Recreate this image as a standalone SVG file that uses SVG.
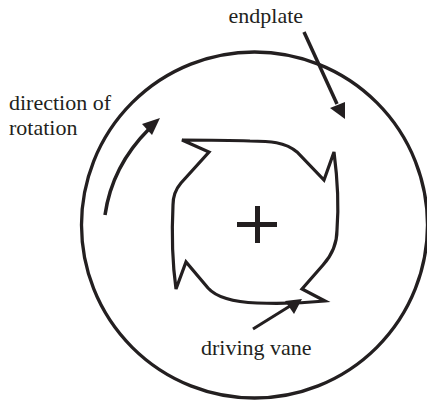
<svg xmlns="http://www.w3.org/2000/svg" width="427" height="403" viewBox="0 0 427 403">
<defs>
<style>
text{font-family:"Liberation Serif","Times New Roman",serif;font-size:22px;fill:#231f20}
.s{fill:none;stroke:#231f20;stroke-linejoin:miter}
.h{fill:#231f20;stroke:none}
</style>
</defs>
<rect width="427" height="403" fill="#fff"/>
<g id="endplate">
<circle class="s" cx="254.500" cy="225" r="173" stroke-width="3.300"/>
<text x="228.500" y="23">endplate</text>
</g>
<g id="vane">
<path class="s" stroke-width="3.200" d="M182 140 L209 152 L181 183 C175 190 173 196 173 205 C172 225 172 260 176 289 L186 262 L208 288 C216 297 232 302 257 303 C285 304 305 303 325 301 L302 289 L323 265 C332 255 337 245 337 230 C339 205 337 175 334 152 L324 180 L297 152 C285 142 270 141 250 141 C225 140 200 140 182 140 Z"/>
</g>
<g id="hub">
<path class="h" d="M237 222 H255 V206 H260 V222 H277 V227 H260 V243 H255 V227 H237 Z"/>
</g>
<g id="labels">
<text x="9" y="110">direction of</text>
<text x="9" y="135">rotation</text>
<text x="201" y="355">driving vane</text>
</g>
<g id="connectors">
<path class="s" stroke-width="3.500" d="M304 32 L337 104"/>
<polygon class="h" points="345,119 330,108 345,102"/>
<path class="s" stroke-width="3.500" d="M105 215 C110 180 126 152 149 129"/>
<polygon class="h" points="160,118 152,135 142,124"/>
<path class="s" stroke-width="3" d="M253 329 L290 306"/>
<polygon class="h" points="302,299 285,301 294,314"/>
</g>
</svg>
